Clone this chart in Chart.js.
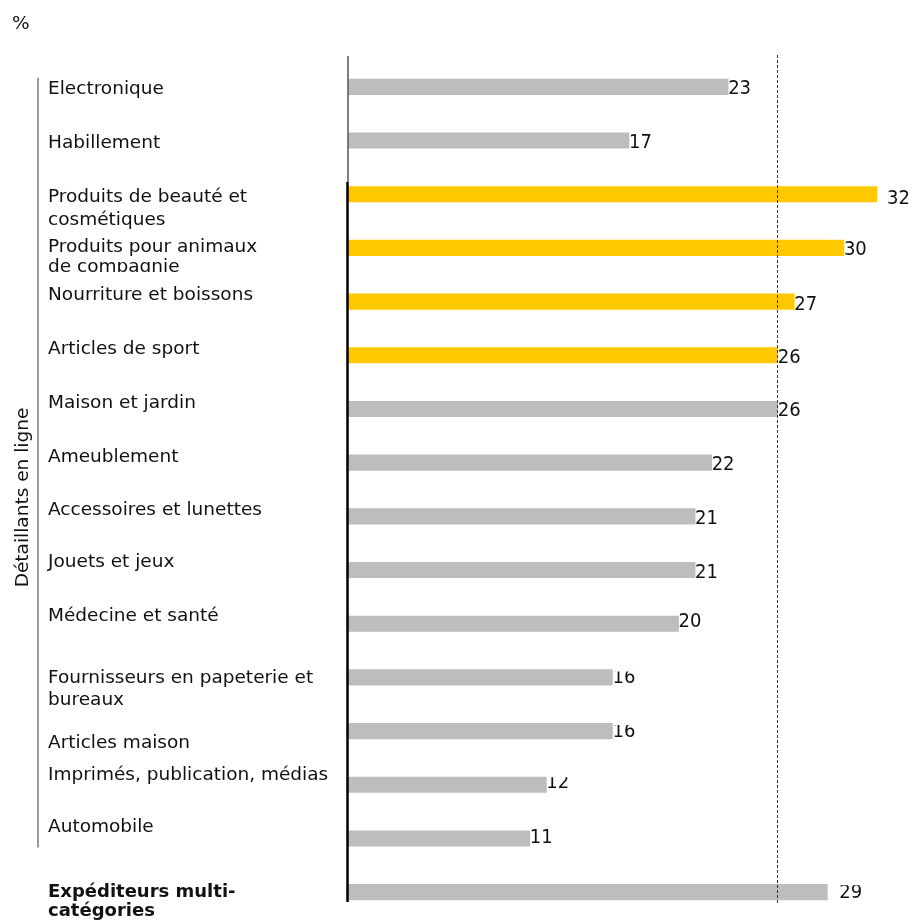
<!DOCTYPE html>
<html>
<head>
<meta charset="utf-8">
<script src="https://cdn.jsdelivr.net/npm/chart.js@4"></script>
<style>
  body { margin: 0; background: #fff; }
  #wrap { position: relative; width: 913px; height: 920px; }
</style>
</head>
<body>
<div id="wrap"><canvas id="shareChart"></canvas></div>
<script>
// categories, top to bottom (arrays = wrapped labels)
const categories = [
  'Electronique',
  'Habillement',
  ['Produits de beauté et', 'cosmétiques'],
  ['Produits pour animaux', 'de compagnie'],
  'Nourriture et boissons',
  'Articles de sport',
  'Maison et jardin',
  'Ameublement',
  'Accessoires et lunettes',
  'Jouets et jeux',
  'Médecine et santé',
  ['Fournisseurs en papeterie et', 'bureaux'],
  'Articles maison',
  'Imprimés, publication, médias',
  'Automobile',
  ['Expéditeurs multi-', 'catégories']
];
const shares = [23, 17, 32, 30, 27, 26, 26, 22, 21, 21, 20, 16, 16, 12, 11, 29];
const highlighted = [false, false, true, true, true, true, false, false, false, false, false, false, false, false, false, false];
const boldRows = [15];
const benchmark = 26;
const groupLabel = 'Détaillants en ligne';
const groupRows = [0, 14];
const unitLabel = '%';

const GREY = '#bcbdbc';
const YELLOW = '#ffc800';
const FONT = '"DejaVu Sans", sans-serif';
const NUM_FONT = '"DejaVu Sans Condensed", "DejaVu Sans", sans-serif';

// per-row tweaks: category baseline vs bar centre, value label offsets
const labelDy = [7, 7, 8, 4, -2, -1, -1, -1, -1, -3, -3, 6, 17, -5, -6, 5];
const lineGap = [22, 22, 23, 20, 22, 22, 22, 22, 22, 22, 22, 22, 22, 22, 22, 19];
const valueDx = [0, 0, 10, 0, 0, 0, 0, 0, 0, 0, 0, 0, 0, 0, 0, 12];
const valueDy = [7.5, 7.5, 9.5, 7.5, 8, 7.5, 7.5, 7.5, 7.5, 7.5, 3, 6, 6, 3, 5, 6];
// value text cut off a few px above the bar on these rows (row -> clip offset)
const clippedValues = { 11: 6, 12: 6, 13: 7.5, 15: 7 };

const overlay = {
  id: 'overlay',
  afterDatasetsDraw(chart) {
    const ctx = chart.ctx;
    const x = chart.scales.x;
    const y = chart.scales.y;
    const x0 = x.getPixelForValue(0);
    ctx.save();

    // benchmark dashed line
    const xb = Math.round(x.getPixelForValue(benchmark)) - 0.5;
    ctx.strokeStyle = '#333';
    ctx.lineWidth = 1;
    ctx.setLineDash([3, 2]);
    ctx.beginPath();
    ctx.moveTo(xb, 55);
    ctx.lineTo(xb, 905);
    ctx.stroke();
    ctx.setLineDash([]);

    // base axis: thin grey on top, heavier below
    ctx.strokeStyle = '#555';
    ctx.lineWidth = 1.5;
    ctx.beginPath();
    ctx.moveTo(x0, 56);
    ctx.lineTo(x0, 182);
    ctx.stroke();
    ctx.strokeStyle = '#000';
    ctx.lineWidth = 2.5;
    ctx.beginPath();
    ctx.moveTo(x0 - 0.5, 182);
    ctx.lineTo(x0 - 0.5, 902);
    ctx.stroke();

    // category labels
    ctx.fillStyle = '#111';
    ctx.textAlign = 'left';
    ctx.textBaseline = 'alphabetic';
    categories.forEach((lab, i) => {
      const lines = Array.isArray(lab) ? lab : [lab];
      const bold = boldRows.includes(i);
      ctx.font = (bold ? 'bold 18px ' : '18.5px ') + FONT;
      const base = y.getPixelForValue(i) + labelDy[i];
      ctx.save();
      if (i === 3) {
        // second line runs into the next row and gets cut
        ctx.beginPath();
        ctx.rect(0, 0, 340, base + lineGap[i]);
        ctx.clip();
      }
      lines.forEach((ln, k) => ctx.fillText(ln, 48, base + k * lineGap[i]));
      ctx.restore();
    });

    // value labels at bar ends
    ctx.font = '20px ' + NUM_FONT;
    shares.forEach((v, i) => {
      const yc = y.getPixelForValue(i);
      ctx.save();
      if (clippedValues[i] !== undefined) {
        ctx.beginPath();
        ctx.rect(0, yc - clippedValues[i], chart.width, 40);
        ctx.clip();
      }
      ctx.fillText(String(v), x.getPixelForValue(v) + valueDx[i], yc + valueDy[i]);
      ctx.restore();
    });

    // group bracket + rotated label
    const gTop = y.getPixelForValue(groupRows[0]) - 9;
    const gBot = y.getPixelForValue(groupRows[1]) + 9;
    ctx.strokeStyle = '#333';
    ctx.lineWidth = 1;
    ctx.beginPath();
    ctx.moveTo(38, gTop);
    ctx.lineTo(38, gBot);
    ctx.stroke();
    ctx.save();
    ctx.translate(27.5, 497.5);
    ctx.rotate(-Math.PI / 2);
    ctx.textAlign = 'center';
    ctx.font = '18.5px ' + FONT;
    ctx.fillText(groupLabel, 0, 0);
    ctx.restore();

    // unit
    ctx.textAlign = 'left';
    ctx.font = '18.5px ' + FONT;
    ctx.fillText(unitLabel, 12, 29);
    ctx.restore();
  }
};

new Chart(document.getElementById('shareChart'), {
  type: 'bar',
  data: {
    labels: categories,
    datasets: [{
      data: shares,
      backgroundColor: highlighted.map(h => h ? YELLOW : GREY),
      barThickness: 15.5,
      borderWidth: 0
    }]
  },
  options: {
    indexAxis: 'y',
    responsive: true,
    maintainAspectRatio: false,
    animation: false,
    layout: { padding: { left: 348, right: 3, top: 60, bottom: 1 } },
    plugins: { legend: { display: false }, tooltip: { enabled: false } },
    scales: {
      x: { display: false, min: 0, max: 34 },
      y: { display: false, offset: true, grid: { display: false } }
    }
  },
  plugins: [overlay]
});
</script>
</body>
</html>
